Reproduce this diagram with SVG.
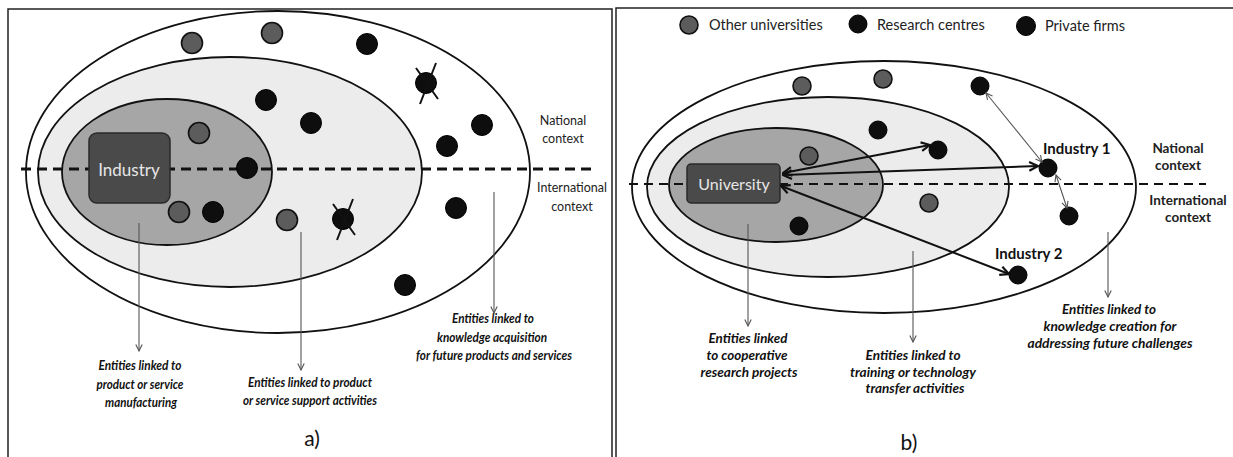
<svg xmlns="http://www.w3.org/2000/svg" width="1233" height="457" viewBox="0 0 1233 457">
<defs>
<style>
.frame{fill:none;stroke:#222;stroke-width:1.5}
.outer{fill:#fff;stroke:#111;stroke-width:1.8}
.mid{fill:#ececec;stroke:#111;stroke-width:1.8}
.inner{fill:#a6a6a6;stroke:#111;stroke-width:1.8}
.box{fill:#4a4a4a;stroke:#2a2a2a;stroke-width:1.5}
.boxt{font-family:Lato,"Open Sans",sans-serif;fill:#e6e6e6;text-anchor:middle}
.gdot{fill:#5c5c5c;stroke:#111;stroke-width:1.6}
.bdot{fill:#0e0e0e;stroke:#000;stroke-width:1}
.xm{stroke:#111;stroke-width:2;fill:none}
.dashA{stroke:#111;stroke-width:3.2;stroke-dasharray:10 6;fill:none}
.dashB{stroke:#111;stroke-width:2;stroke-dasharray:9 6;fill:none}
.thin{stroke:#555;stroke-width:1.1;fill:none}
.thick{stroke:#111;stroke-width:2;fill:none}
.lab{font-family:Lato,"Open Sans",sans-serif;font-weight:bold;font-style:italic;font-size:13.5px;fill:#111;text-anchor:middle}
.labB{font-size:14px}
.ctxA{font-family:Lato,"Open Sans",sans-serif;font-size:12.5px;fill:#222;text-anchor:middle}
.ctxB{font-family:Lato,"Open Sans",sans-serif;font-weight:bold;font-size:13.5px;fill:#222;text-anchor:middle}
.ind{font-family:Lato,"Open Sans",sans-serif;font-weight:bold;font-size:15px;fill:#111}
.leg{font-family:Lato,"Open Sans",sans-serif;font-size:14.5px;fill:#222}
.pan{font-family:Lato,"Open Sans",sans-serif;font-size:21px;fill:#111;text-anchor:middle}
</style>
<marker id="ahThin" viewBox="0 0 10 10" refX="9" refY="5" markerWidth="8" markerHeight="8" markerUnits="userSpaceOnUse" orient="auto-start-reverse">
<path d="M1,1 L9,5 L1,9" fill="none" stroke="#555" stroke-width="1.4"/>
</marker>
<marker id="ahThick" viewBox="0 0 10 10" refX="9" refY="5" markerWidth="11" markerHeight="11" markerUnits="userSpaceOnUse" orient="auto-start-reverse">
<path d="M1,1 L9,5 L1,9" fill="none" stroke="#111" stroke-width="2"/>
</marker>
</defs>
<rect width="1233" height="457" fill="#fff"/>

<!-- Panel frames -->
<g id="frames">
<path class="frame" d="M8,460 L8,9 L612,9 L612,460"/>
<path class="frame" d="M616,460 L616,8 L1240,8"/>
</g>

<!-- ===== Panel a ===== -->
<g id="a-outer"><ellipse class="outer" cx="278" cy="172" rx="252" ry="161"/></g>
<g id="a-mid"><ellipse class="mid" cx="230" cy="172" rx="192" ry="115"/></g>
<g id="a-inner"><ellipse class="inner" cx="167" cy="172" rx="105" ry="73"/></g>
<g id="a-dash"><line class="dashA" x1="21" y1="169" x2="591" y2="169"/></g>
<g id="a-industry">
<rect class="box" x="89" y="133" width="81" height="70" rx="8"/>
<text class="boxt" x="129" y="176" font-size="17">Industry</text>
</g>
<g id="a-dots">
<circle class="gdot" cx="192" cy="43" r="10.5"/>
<circle class="gdot" cx="272" cy="33" r="10.5"/>
<circle class="bdot" cx="367" cy="44" r="10.5"/>
<circle class="bdot" cx="426" cy="83" r="10.5"/>
<circle class="bdot" cx="266" cy="100" r="10.5"/>
<circle class="bdot" cx="311" cy="123" r="10.5"/>
<circle class="gdot" cx="199" cy="133" r="10.5"/>
<circle class="bdot" cx="482" cy="125" r="10.5"/>
<circle class="bdot" cx="447" cy="146" r="10.5"/>
<circle class="bdot" cx="247" cy="168" r="10.5"/>
<circle class="gdot" cx="179" cy="212" r="10.5"/>
<circle class="bdot" cx="213" cy="212" r="10.5"/>
<circle class="gdot" cx="287" cy="220" r="10.5"/>
<circle class="bdot" cx="343" cy="219" r="10.5"/>
<circle class="bdot" cx="456" cy="208" r="10.5"/>
<circle class="bdot" cx="405" cy="285" r="10.5"/>
</g>
<g id="a-crosses">
<path class="xm" d="M416,68 L438,99 M436,63 L420,104"/>
<path class="xm" d="M333,204 L355,235 M353,199 L337,240"/>
</g>
<g id="a-context">
<text class="ctxA" x="563" y="125">National</text>
<text class="ctxA" x="563" y="143">context</text>
<text class="ctxA" x="572" y="192">International</text>
<text class="ctxA" x="572" y="211">context</text>
</g>
<g id="a-labels">
<text class="lab" x="140" y="370" textLength="83" lengthAdjust="spacingAndGlyphs">Entities linked to</text>
<text class="lab" x="140" y="389" textLength="87" lengthAdjust="spacingAndGlyphs">product or service</text>
<text class="lab" x="141" y="407" textLength="72" lengthAdjust="spacingAndGlyphs">manufacturing</text>
<text class="lab" x="310" y="387" textLength="124" lengthAdjust="spacingAndGlyphs">Entities linked to product</text>
<text class="lab" x="310" y="405" textLength="134" lengthAdjust="spacingAndGlyphs">or service support activities</text>
<text class="lab" x="493" y="323" textLength="82" lengthAdjust="spacingAndGlyphs">Entities linked to</text>
<text class="lab" x="492" y="342" textLength="110" lengthAdjust="spacingAndGlyphs">knowledge acquisition</text>
<text class="lab" x="494" y="360" textLength="156" lengthAdjust="spacingAndGlyphs">for future products and services</text>
<text class="pan" x="312" y="446">a)</text>
</g>

<!-- ===== Panel b ===== -->
<g id="b-legend">
<circle class="gdot" cx="689" cy="25" r="9"/>
<text class="leg" x="709" y="30">Other universities</text>
<circle class="bdot" cx="858" cy="24" r="9"/>
<text class="leg" x="877" y="30">Research centres</text>
<circle class="bdot" cx="1026" cy="26" r="9.5"/>
<text class="leg" x="1045" y="31">Private firms</text>
</g>
<g id="b-outer"><ellipse class="outer" cx="884" cy="187" rx="252" ry="126"/></g>
<g id="b-mid"><ellipse class="mid" cx="828" cy="187" rx="181" ry="90"/></g>
<g id="b-inner"><ellipse class="inner" cx="776" cy="185" rx="107" ry="57"/></g>
<g id="b-dash"><line class="dashB" x1="629" y1="184" x2="1206" y2="184"/></g>
<g id="b-dots">
<circle class="gdot" cx="802" cy="86" r="9"/>
<circle class="gdot" cx="883" cy="79" r="9"/>
<circle class="bdot" cx="980" cy="86" r="9"/>
<circle class="bdot" cx="878" cy="130" r="9"/>
<circle class="gdot" cx="809" cy="156" r="9"/>
<circle class="bdot" cx="938" cy="150" r="9"/>
<circle class="gdot" cx="929" cy="203" r="9"/>
<circle class="bdot" cx="799" cy="226" r="9"/>
<circle class="bdot" cx="1069" cy="216" r="9"/>
</g>
<g id="b-university">
<rect class="box" x="687" y="164" width="93" height="39" rx="4"/>
<text class="boxt" x="734" y="190" font-size="16">University</text>
</g>
<g id="b-industry1">
<circle class="bdot" cx="1048" cy="168" r="9"/>
<text class="ind" x="1043" y="154">Industry 1</text>
</g>
<g id="b-industry2">
<circle class="bdot" cx="1018" cy="275" r="9"/>
<text class="ind" x="995" y="259">Industry 2</text>
</g>
<g id="b-context">
<text class="ctxB" x="1178" y="153">National</text>
<text class="ctxB" x="1178" y="170">context</text>
<text class="ctxB" x="1188" y="205">International</text>
<text class="ctxB" x="1188" y="222">context</text>
</g>
<g id="b-labels">
<text class="lab labB" x="748" y="343" textLength="79" lengthAdjust="spacingAndGlyphs">Entities linked</text>
<text class="lab labB" x="747" y="360" textLength="81" lengthAdjust="spacingAndGlyphs">to cooperative</text>
<text class="lab labB" x="749" y="377" textLength="97" lengthAdjust="spacingAndGlyphs">research projects</text>
<text class="lab labB" x="913" y="360" textLength="95" lengthAdjust="spacingAndGlyphs">Entities linked to</text>
<text class="lab labB" x="913" y="377" textLength="126" lengthAdjust="spacingAndGlyphs">training or technology</text>
<text class="lab labB" x="915" y="393" textLength="99" lengthAdjust="spacingAndGlyphs">transfer activities</text>
<text class="lab labB" x="1109" y="314" textLength="94" lengthAdjust="spacingAndGlyphs">Entities linked to</text>
<text class="lab labB" x="1110" y="331" textLength="133" lengthAdjust="spacingAndGlyphs">knowledge creation for</text>
<text class="lab labB" x="1110" y="348" textLength="165" lengthAdjust="spacingAndGlyphs">addressing future challenges</text>
<text class="pan" x="909" y="450">b)</text>
</g>

<!-- ===== Connectors ===== -->
<g id="connectors">
<line class="thin" x1="139" y1="223" x2="139" y2="351" marker-end="url(#ahThin)"/>
<line class="thin" x1="301" y1="232" x2="301" y2="370" marker-end="url(#ahThin)"/>
<line class="thin" x1="494" y1="192" x2="494" y2="313" marker-end="url(#ahThin)"/>
<line class="thin" x1="748" y1="224" x2="748" y2="326" marker-end="url(#ahThin)"/>
<line class="thin" x1="913" y1="251" x2="913" y2="342" marker-end="url(#ahThin)"/>
<line class="thin" x1="1108" y1="232" x2="1108" y2="297" marker-end="url(#ahThin)"/>
<line class="thick" x1="783" y1="173" x2="930" y2="145" marker-start="url(#ahThick)" marker-end="url(#ahThick)"/>
<line class="thick" x1="783" y1="175" x2="1038" y2="166" marker-start="url(#ahThick)" marker-end="url(#ahThick)"/>
<line class="thick" x1="781" y1="186" x2="1009" y2="274" marker-start="url(#ahThick)" marker-end="url(#ahThick)"/>
<line class="thin" x1="986" y1="93" x2="1042" y2="162" marker-start="url(#ahThin)" marker-end="url(#ahThin)"/>
<line class="thin" x1="1056" y1="175" x2="1067" y2="208" marker-start="url(#ahThin)" marker-end="url(#ahThin)"/>
</g>
</svg>
